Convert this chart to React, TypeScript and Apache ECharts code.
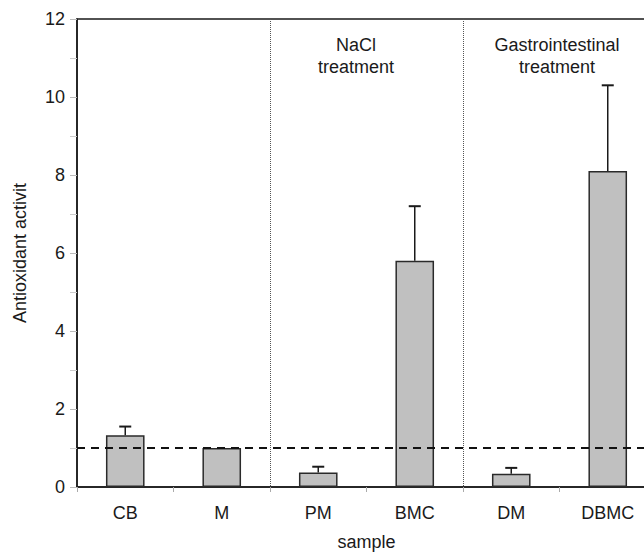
import React, { useEffect, useRef } from "react";
import * as echarts from "echarts";

const categories = ["CB", "M", "PM", "BMC", "DM", "DBMC"];
const meanValues = [1.33, 1.0, 0.37, 5.8, 0.34, 8.1];
const errorTops = [1.55, 1.0, 0.52, 7.2, 0.49, 10.3];
const referenceLevel = 1;
const yTicks = { min: 0, max: 12, interval: 2 };
const groupLabels = [
  { text: "NaCl\ntreatment", x: 356 },
  { text: "Gastrointestinal\ntreatment", x: 557 },
];

const FONT = "'Liberation Sans', Arial, sans-serif";

export default function App() {
  const ref = useRef<HTMLDivElement>(null);
  useEffect(() => {
    document.body.style.margin = "0";
    const chart = echarts.init(ref.current!, null, { renderer: "svg" });
    const errData = categories.map((_, i) => [i, meanValues[i], errorTops[i]]);
    chart.setOption({
      animation: false,
      backgroundColor: "#ffffff",
      textStyle: { fontFamily: FONT },
      grid: {
        left: 77,
        top: 19,
        width: 579,
        height: 468,
        show: true,
        borderColor: "#1a1a1a",
        borderWidth: 1.5,
        containLabel: false,
        outerBoundsMode: "none",
      },
      xAxis: {
        type: "category",
        data: categories,
        boundaryGap: true,
        name: "sample",
        nameLocation: "middle",
        nameGap: 46,
        nameTextStyle: { fontSize: 18, color: "#1a1a1a", fontFamily: FONT },
        axisLine: { show: true, lineStyle: { color: "#1a1a1a", width: 1.5 } },
        axisTick: { show: true, length: 5, lineStyle: { color: "#aaaaaa", width: 1 } },
        axisLabel: { fontSize: 18, color: "#1a1a1a", margin: 17, fontFamily: FONT },
        splitLine: {
          show: true,
          interval: (index: number) => index === 2 || index === 4,
          lineStyle: { color: "#555555", type: [1, 1], width: 1 },
        },
      },
      yAxis: {
        type: "value",
        min: yTicks.min,
        max: yTicks.max,
        interval: yTicks.interval,
        name: "Antioxidant activit",
        nameLocation: "middle",
        nameGap: 48,
        nameTextStyle: { fontSize: 18, color: "#1a1a1a", fontFamily: FONT },
        axisLine: { show: true, lineStyle: { color: "#1a1a1a", width: 1.5 } },
        axisTick: { show: true, length: 7, lineStyle: { color: "#bbbbbb", width: 1 } },
        minorTick: { show: true, splitNumber: 2, length: 7, lineStyle: { color: "#cccccc", width: 1 } },
        axisLabel: { fontSize: 18, color: "#1a1a1a", margin: 12, fontFamily: FONT },
        splitLine: { show: false },
      },
      series: [
        {
          type: "bar",
          data: meanValues,
          barWidth: "40%",
          itemStyle: { color: "#c0c0c0", borderColor: "#2a2a2a", borderWidth: 1.5 },
          markLine: {
            silent: true,
            symbol: ["none", "none"],
            label: { show: false },
            lineStyle: { color: "#111111", type: [8, 6], width: 2 },
            data: [{ yAxis: referenceLevel }],
          },
          z: 2,
        },
        {
          type: "custom",
          data: errData,
          z: 3,
          renderItem: (params: any, api: any) => {
            const x = api.value(0);
            const lo = api.coord([x, api.value(1)]);
            const hi = api.coord([x, api.value(2)]);
            if (Math.abs(hi[1] - lo[1]) < 1) return { type: "group", children: [] };
            const half = 6;
            const style = { stroke: "#1a1a1a", lineWidth: 1.5 };
            return {
              type: "group",
              children: [
                { type: "line", shape: { x1: lo[0], y1: lo[1], x2: hi[0], y2: hi[1] }, style },
                { type: "line", shape: { x1: hi[0] - half, y1: hi[1], x2: hi[0] + half, y2: hi[1] }, style: { ...style, lineWidth: 2 } },
              ],
            };
          },
        },
      ],
      graphic: groupLabels.map((g) => ({
        type: "text",
        x: g.x,
        y: 34,
        style: {
          text: g.text,
          fontSize: 18,
          fontFamily: FONT,
          fill: "#1a1a1a",
          align: "center",
          lineHeight: 22,
        },
      })),
    });
    return () => chart.dispose();
  }, []);
  return (
    <div
      ref={ref}
      style={{ position: "fixed", left: 0, top: 0, width: 644, height: 554 }}
    />
  );
}
